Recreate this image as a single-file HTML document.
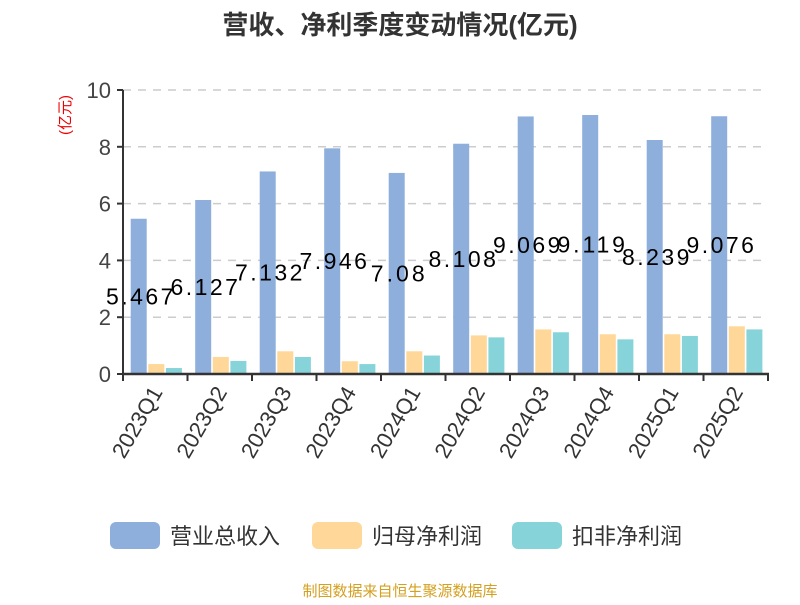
<!DOCTYPE html>
<html><head><meta charset="utf-8"><style>
body{margin:0;background:#fff;font-family:"Liberation Sans","Noto Sans CJK SC",sans-serif}
</style></head><body>
<svg width="800" height="600" xmlns="http://www.w3.org/2000/svg" font-family="Liberation Sans, Noto Sans CJK SC, sans-serif">
<text x="400" y="34" text-anchor="middle" font-size="26" font-weight="bold" fill="#333">营收、净利季度变动情况(亿元)</text>
<text transform="translate(70,115) rotate(-90)" text-anchor="middle" font-size="15" fill="#e00">(亿元)</text>
<g id="grid"></g><g id="bars"></g><g id="labels"></g><g id="axes"></g>
<g>
<rect x="110" y="522" width="50" height="27" rx="6" fill="#8eaedc"/>
<text x="170" y="544" font-size="22" fill="#333">营业总收入</text>
<rect x="312" y="522" width="50" height="27" rx="6" fill="#ffd899"/>
<text x="372" y="544" font-size="22" fill="#333">归母净利润</text>
<rect x="512" y="522" width="50" height="27" rx="6" fill="#86d4d9"/>
<text x="572" y="544" font-size="22" fill="#333">扣非净利润</text>
</g>
<text x="400" y="596" text-anchor="middle" font-size="15" fill="#d4a020">制图数据来自恒生聚源数据库</text>
</svg>
<script>
const categories=["2023Q1","2023Q2","2023Q3","2023Q4","2024Q1","2024Q2","2024Q3","2024Q4","2025Q1","2025Q2"];
const revenue=[5.467,6.127,7.132,7.946,7.08,8.108,9.069,9.119,8.239,9.076];
const netProfit=[0.35,0.6,0.8,0.45,0.8,1.36,1.57,1.4,1.4,1.68];
const deductedProfit=[0.21,0.46,0.6,0.35,0.65,1.29,1.47,1.22,1.34,1.57];
const yTicks=[0,2,4,6,8,10];
const NS="http://www.w3.org/2000/svg";
const x0=123,x1=768,y0=374,yTop=90,yMax=10;
const band=(x1-x0)/categories.length;
const yS=v=>y0-(v/yMax)*(y0-yTop);
const xS=i=>x0+i*band;
function mk(tag,attrs,parent){const e=document.createElementNS(NS,tag);for(const k in attrs)e.setAttribute(k,attrs[k]);document.getElementById(parent).appendChild(e);return e;}
yTicks.forEach(t=>{
  if(t>0){const g=mk('line',{x1:x0,x2:x1,y1:yS(t),y2:yS(t),stroke:'#ccc','stroke-width':1.5,'stroke-dasharray':'8,7'},'grid');
  
  }
  const l=mk('text',{x:x0-12,y:yS(t)+8,'text-anchor':'end','font-size':22,fill:'#444'},'axes');l.textContent=t;
  
  
  const tk=mk('line',{x1:x0-6,x2:x0,y1:yS(t),y2:yS(t),stroke:'#333','stroke-width':2},'axes');
  
  
});
const series=[[revenue,'#8eaedc','bar-revenue'],[netProfit,'#ffd899','bar-net-profit'],[deductedProfit,'#86d4d9','bar-deducted-profit']];
const bw=16,off=7.7,gap=1.6;
categories.forEach((c,i)=>{
  series.forEach((s,j)=>{
    const v=s[0][i];const bx=xS(i)+off+j*(bw+gap);
    const r=mk('rect',{x:bx,y:yS(v),width:bw,height:y0-yS(v),fill:s[1]},'bars');
    
    
  });
  const lb=mk('text',{x:xS(i)+off+bw/2+1,y:(y0+yS(revenue[i]))/2+8,'text-anchor':'middle','font-size':23,fill:'#000','textLength':String(revenue[i]).length*13.5},'labels');
  lb.textContent=revenue[i];
  
  
  const tk=mk('line',{x1:xS(i),x2:xS(i),y1:y0,y2:y0+7,stroke:'#333','stroke-width':2},'axes');
  
  
  const cx=xS(i)+band/2;
  const xl=mk('text',{x:cx+8,y:y0+18,'text-anchor':'end','font-size':22,fill:'#333',transform:`rotate(-60 ${cx+8} ${y0+18})`},'axes');
  xl.textContent=c;
  
  
});
const la=mk('line',{x1:x1,x2:x1,y1:y0,y2:y0+7,stroke:'#333','stroke-width':2},'axes');


const ya=mk('line',{x1:x0,x2:x0,y1:yTop,y2:y0+1,stroke:'#333','stroke-width':2},'axes');


const xa=mk('line',{x1:x0-1,x2:x1+1,y1:y0,y2:y0,stroke:'#333','stroke-width':2.5},'axes');


</script>
</body></html>
